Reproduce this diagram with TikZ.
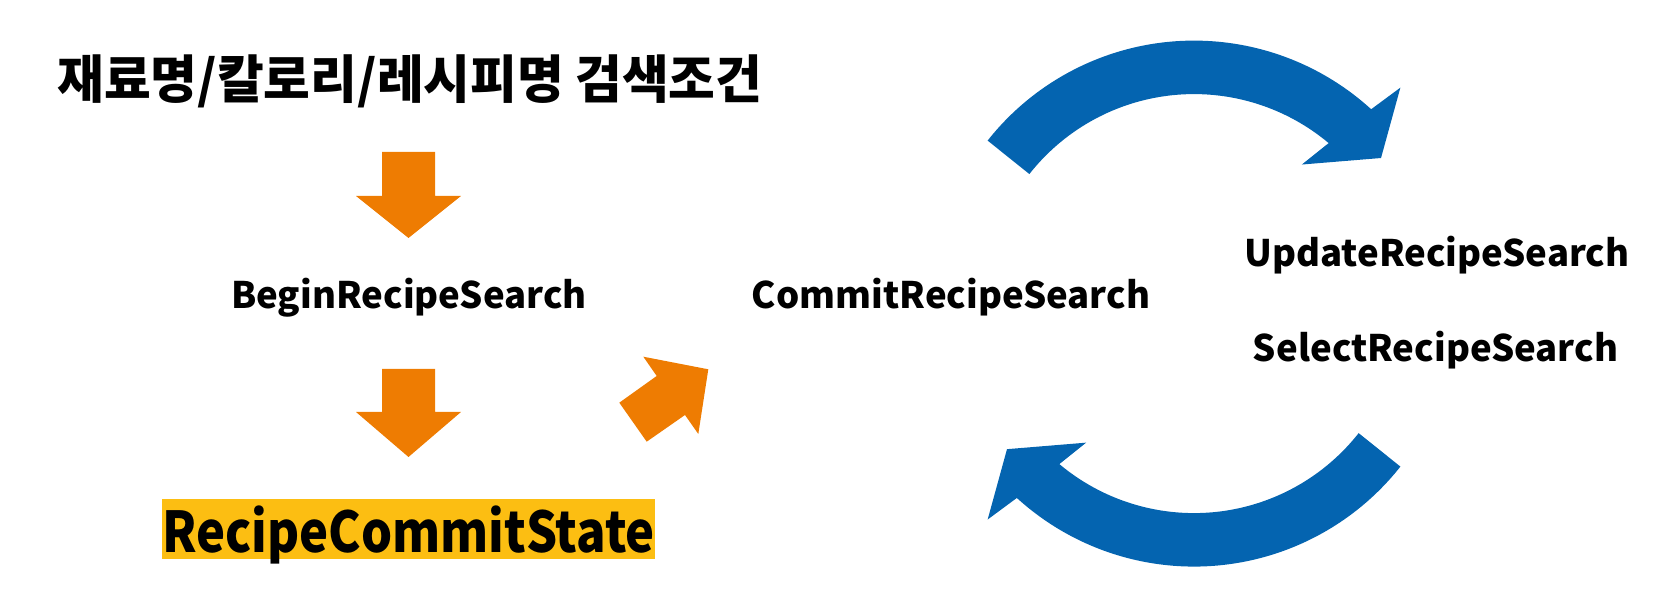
\documentclass[tikz,border=0pt]{standalone}
\usepackage{fontspec}
\usepackage{tikz}
\usetikzlibrary{positioning}
\setmainfont{Noto Sans CJK KR}
\newfontfamily\krfont{Noto Sans CJK KR}
\definecolor{recipeorange}{RGB}{238,124,2}
\definecolor{recipeblue}{RGB}{4,100,176}
\definecolor{recipeyellow}{RGB}{252,190,18}

\tikzset{
  msglabel/.style={font=\fontsize{20.8}{24}\selectfont\bfseries, inner sep=0pt, anchor=base},
  blockarrow/.style={fill=recipeorange},
  looparrow/.style={fill=recipeblue}
}

\begin{document}
\begin{tikzpicture}[x=0.02cm, y=0.02cm]
  \useasboundingbox (0,0) rectangle (1676,614);

  % Search conditions
  \node[font=\krfont\fontsize{29.5}{33}\selectfont\bfseries, inner sep=0pt] (cond) at (410,533)
    {\scalebox{0.98}[1]{재료명/칼로리/레시피명 검색조건}};

  % Arrow cond -> begin
  \fill[blockarrow] (382,462) -- (435,462) -- (435,418) -- (461,418)
    -- (408.5,376) -- (356,418) -- (382,418) -- cycle;

  \node[msglabel] (begin) at (409,305) {BeginRecipeSearch};

  % Arrow begin -> state
  \fill[blockarrow] (382,245) -- (435,245) -- (435,202) -- (461,202)
    -- (408.5,157) -- (356,202) -- (382,202) -- cycle;

  % Commit state
  \node[fill=recipeyellow, inner sep=0pt, minimum width=9.78cm, minimum height=1.2cm,
    text depth=0pt, font=\fontsize{32}{36}\selectfont\bfseries] (state) at (408.5,85)
    {\scalebox{0.87}[1]{RecipeCommitState}};

  % Arrow state -> commit
  \fill[blockarrow] (643.3,257.3) -- (708.3,244.7) -- (698.3,180) -- (685,199)
    -- (646.7,172.3) -- (619.3,211.3) -- (656.7,238) -- cycle;

  \node[msglabel] (commit) at (951,305) {CommitRecipeSearch};

  % Update / select loop
  \node[msglabel] (update) at (1437,347) {UpdateRecipeSearch};
  \node[msglabel] (select) at (1435.5,252) {SelectRecipeSearch};

  \begin{scope}[shift={(1194,310.4)}]
    % top: commit -> update
    \fill[looparrow] (141.7:263) arc[start angle=141.7, end angle=47.65, radius=263]
      -- (46.3:298.7) -- (37.9:237) -- (52.2:176) -- (50:209.5)
      arc[start angle=50, end angle=141.8, radius=209.5] -- cycle;
    % bottom: select -> commit
    \fill[looparrow] (321.7:263) arc[start angle=321.7, end angle=227.65, radius=263]
      -- (226.3:298.7) -- (217.9:237) -- (232.2:176) -- (230:209.5)
      arc[start angle=230, end angle=321.8, radius=209.5] -- cycle;
  \end{scope}

\end{tikzpicture}
\end{document}
